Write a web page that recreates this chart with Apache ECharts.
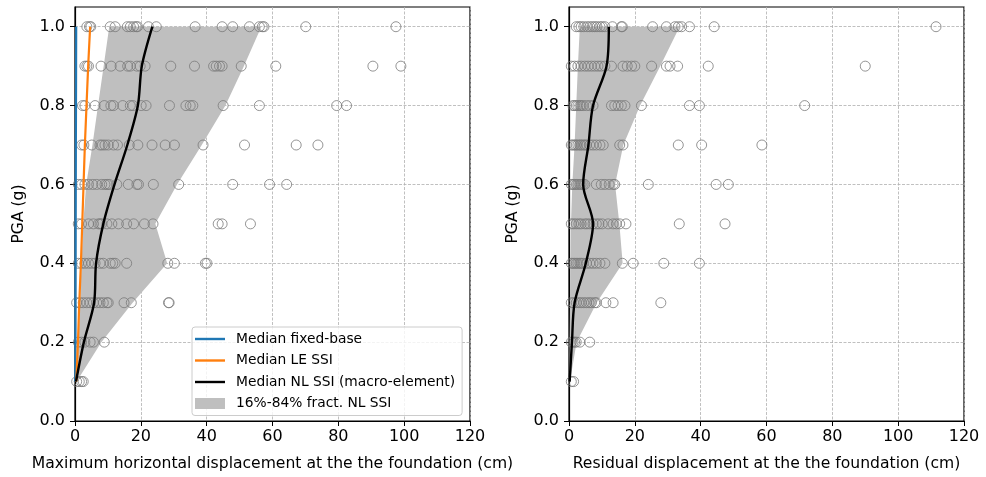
<!DOCTYPE html>
<html>
<head>
<meta charset="utf-8">
<script src="https://cdn.jsdelivr.net/npm/echarts@6/dist/echarts.min.js"></script>
<style>
html,body{margin:0;padding:0;background:#fff;}
#chart{width:986px;height:477px;}
</style>
</head>
<body>
<div id="chart"></div>
<script>
// ---------- DATA ----------
const pgaLevels = [0.1, 0.2, 0.3, 0.4, 0.5, 0.6, 0.7, 0.8, 0.9, 1.0];
const xTicks = [0, 20, 40, 60, 80, 100, 120];
const yTicks = [0.0, 0.2, 0.4, 0.6, 0.8, 1.0];

// Left panel: maximum horizontal displacement (cm), one list per PGA level
const maxDispPoints = [
  [0.5, 1.3, 2.0, 2.5],
  [1.0, 2.0, 3.0, 4.6, 5.6, 8.9],
  [0.5, 1.5, 2.5, 3.6, 4.6, 5.6, 6.6, 7.6, 8.6, 9.7, 10.1, 14.9, 17.1, 28.4, 28.6],
  [1.0, 2.0, 3.0, 4.1, 5.1, 6.1, 7.6, 8.6, 10.7, 11.5, 12.2, 15.7, 28.2, 30.2, 39.6, 40.1],
  [1.0, 2.0, 4.1, 5.6, 7.1, 7.6, 8.1, 9.7, 11.2, 13.2, 15.7, 17.8, 21.1, 23.7, 43.5, 44.7, 53.3],
  [1.0, 2.0, 3.0, 4.1, 5.4, 6.6, 8.1, 9.1, 9.8, 10.4, 12.7, 16.2, 18.8, 19.3, 23.8, 31.5, 47.9, 59.1, 64.3],
  [2.0, 2.7, 5.1, 7.6, 8.3, 9.1, 10.1, 11.7, 12.9, 16.5, 19.1, 23.4, 27.4, 30.2, 38.9, 51.5, 67.2, 73.8],
  [2.3, 3.0, 6.1, 8.9, 10.9, 11.7, 14.5, 16.8, 17.6, 20.1, 21.6, 28.7, 33.7, 35.0, 35.8, 45.0, 56.0, 79.5, 82.5],
  [3.0, 3.6, 4.1, 7.9, 11.0, 13.7, 16.0, 16.8, 18.8, 19.8, 21.3, 29.1, 36.3, 42.1, 42.9, 43.9, 44.7, 50.5, 61.0, 90.5, 99.0],
  [3.6, 4.4, 4.8, 10.7, 12.2, 15.9, 16.8, 17.8, 18.6, 19.0, 22.3, 24.7, 36.5, 44.7, 47.9, 53.0, 56.0, 56.9, 57.4, 70.1, 97.5]
];
const maxDispFixedBase = [0.1, 0.12, 0.15, 0.18, 0.2, 0.23, 0.26, 0.3, 0.33, 0.36];
const maxDispLE        = [0.4, 0.9, 1.3, 1.8, 2.2, 2.6, 3.0, 3.5, 4.0, 4.6];
const maxDispNLMedian  = [0.3, 2.7, 5.8, 6.4, 8.6, 12.0, 15.9, 19.1, 20.3, 23.5];
const maxDispNL16      = [0.3, 1.0, 1.5, 2.0, 2.5, 3.4, 5.3, 7.0, 8.7, 10.4];
const maxDispNL84      = [0.5, 8.0, 17.5, 28.0, 24.4, 31.0, 38.5, 45.7, 51.3, 56.6];

// Right panel: residual displacement (cm), one list per PGA level
const residDispPoints = [
  [0.7, 1.4],
  [0.7, 1.2, 1.7, 2.2, 3.3, 6.3],
  [0.7, 1.4, 2.2, 3.0, 3.7, 4.5, 5.3, 6.1, 6.8, 7.8, 8.3, 11.2, 13.4, 27.9],
  [0.7, 1.2, 1.7, 2.2, 2.7, 3.3, 3.7, 4.3, 5.3, 6.3, 7.3, 8.3, 9.4, 10.9, 16.2, 19.5, 28.8, 39.6],
  [0.7, 1.4, 2.2, 3.0, 3.7, 4.8, 5.5, 6.3, 7.3, 8.3, 9.1, 10.1, 11.9, 13.4, 14.4, 15.4, 17.3, 33.5, 47.4],
  [0.7, 1.2, 1.7, 2.2, 2.7, 3.3, 3.7, 4.3, 4.8, 8.3, 9.8, 10.9, 12.2, 13.4, 13.9, 24.1, 44.7, 48.4],
  [0.7, 1.2, 1.7, 2.2, 2.7, 3.3, 3.7, 4.3, 4.8, 5.3, 6.3, 7.3, 8.3, 9.4, 10.4, 15.4, 16.4, 33.2, 40.3, 58.6],
  [1.2, 1.7, 2.2, 2.7, 3.3, 3.7, 4.3, 5.3, 6.3, 7.3, 12.9, 13.9, 14.9, 15.9, 17.0, 22.0, 36.6, 39.6, 71.6],
  [0.7, 1.7, 2.7, 3.7, 4.8, 5.8, 6.8, 7.8, 8.8, 9.7, 10.9, 12.9, 16.4, 17.7, 19.0, 20.0, 25.1, 29.6, 30.7, 33.0, 42.3, 90.0],
  [2.2, 3.0, 3.7, 4.5, 5.5, 6.3, 7.1, 7.8, 8.5, 9.4, 10.1, 10.9, 13.2, 15.9, 16.2, 25.4, 29.6, 32.2, 33.2, 34.2, 36.6, 44.1, 111.5]
];
const residNLMedian = [0.2, 0.9, 1.7, 5.1, 7.3, 4.3, 5.9, 7.3, 11.4, 12.1];
const residNL16     = [0.1, 0.2, 0.3, 0.4, 0.6, 1.0, 1.7, 2.2, 2.7, 3.3];
const residNL84     = [0.3, 2.3, 8.4, 16.3, 15.3, 14.0, 16.5, 21.6, 27.7, 33.6];

// ---------- CHART ----------
const FONT = 'DejaVu Sans';
const chart = echarts.init(document.getElementById('chart'), null, {renderer: 'canvas'});

function scatterData(lists) {
  const out = [];
  lists.forEach((arr, i) => arr.forEach(v => out.push([v, pgaLevels[i]])));
  return out;
}
function lineData(xs) {
  return xs.map((v, i) => [v, pgaLevels[i]]);
}
function bandSeries(name, idx, lo, hi) {
  return {
    name: name, type: 'custom', xAxisIndex: idx, yAxisIndex: idx, z: 1,
    itemStyle: {color: '#bfbfbf'},
    data: [[0, 0]],
    silent: true,
    renderItem: function (params, api) {
      const pts = [];
      for (let i = 0; i < pgaLevels.length; i++) pts.push(api.coord([lo[i], pgaLevels[i]]));
      for (let i = pgaLevels.length - 1; i >= 0; i--) pts.push(api.coord([hi[i], pgaLevels[i]]));
      return {type: 'polygon', shape: {points: pts}, style: {fill: '#bfbfbf', stroke: null}};
    }
  };
}
function xAxis(idx, name) {
  return {
    type: 'value', gridIndex: idx, min: 0, max: 120, interval: 20,
    name: name, nameLocation: 'middle', nameGap: 35,
    nameTextStyle: {fontFamily: FONT, fontSize: 15.6, color: '#000'},
    axisLine: {show: true, onZero: false, lineStyle: {color: '#000', width: 1.2}},
    axisTick: {show: true, inside: false, length: 5, lineStyle: {color: '#000', width: 1}},
    axisLabel: {fontFamily: FONT, fontSize: 16, color: '#000', margin: 8},
    splitLine: {show: true, lineStyle: {color: '#b0b0b0', width: 0.8, type: [3, 1.5]}}
  };
}
function yAxis(idx) {
  return {
    type: 'value', gridIndex: idx, min: 0, max: 1.05, interval: 0.2,
    name: 'PGA (g)', nameLocation: 'middle', nameGap: 48, nameRotate: 90,
    nameTextStyle: {fontFamily: FONT, fontSize: 15.6, color: '#000'},
    axisLine: {show: true, onZero: false, lineStyle: {color: '#000', width: 1.2}},
    axisTick: {show: true, inside: false, length: 5, customValues: yTicks, lineStyle: {color: '#000', width: 1}},
    axisLabel: {fontFamily: FONT, fontSize: 16, color: '#000', margin: 10, customValues: yTicks,
      formatter: v => (v > 1.001 ? '' : v.toFixed(1))},
    splitLine: {show: true, lineStyle: {color: '#b0b0b0', width: 0.8, type: [3, 1.5]}}
  };
}

const LINE_ICON = 'path://M0,0h30v2.4h-30z';

const option = {
  animation: false,
  backgroundColor: '#fff',
  grid: [
    {left: 75, right: 516, top: 7, bottom: 56, show: true, borderColor: '#000', borderWidth: 1.2},
    {left: 569, right: 22, top: 7, bottom: 56, show: true, borderColor: '#000', borderWidth: 1.2}
  ],
  xAxis: [
    xAxis(0, 'Maximum horizontal displacement at the the foundation (cm)'),
    xAxis(1, 'Residual displacement at the the foundation (cm)')
  ],
  yAxis: [yAxis(0), yAxis(1)],
  legend: {
    orient: 'vertical', left: 192, top: 327,
    padding: [5, 7, 5, 3], itemWidth: 30, itemHeight: 13, itemGap: 7.5,
    backgroundColor: 'rgba(255,255,255,0.8)', borderColor: '#cccccc', borderWidth: 1, borderRadius: 3,
    textStyle: {fontFamily: FONT, fontSize: 13.8, color: '#000', padding: [0, 0, 0, 6]},
    data: [
      {name: 'Median fixed-base', icon: LINE_ICON},
      {name: 'Median LE SSI', icon: LINE_ICON},
      {name: 'Median NL SSI (macro-element)', icon: LINE_ICON},
      {name: '16%-84% fract. NL SSI', icon: 'path://M0,0h30v11h-30z'}
    ]
  },
  series: [
    bandSeries('16%-84% fract. NL SSI', 0, maxDispNL16, maxDispNL84),
    bandSeries('16%-84% fract. NL SSI', 1, residNL16, residNL84),
    {
      name: 'pts-left', type: 'scatter', xAxisIndex: 0, yAxisIndex: 0, z: 2,
      symbol: 'circle', symbolSize: 10,
      itemStyle: {color: 'rgba(0,0,0,0)', borderColor: '#7a7a7a', borderWidth: 1},
      data: scatterData(maxDispPoints)
    },
    {
      name: 'pts-right', type: 'scatter', xAxisIndex: 1, yAxisIndex: 1, z: 2,
      symbol: 'circle', symbolSize: 10,
      itemStyle: {color: 'rgba(0,0,0,0)', borderColor: '#7a7a7a', borderWidth: 1},
      data: scatterData(residDispPoints)
    },
    {
      name: 'Median fixed-base', type: 'line', xAxisIndex: 0, yAxisIndex: 0, z: 3,
      symbol: 'none', lineStyle: {color: '#1f77b4', width: 2.2}, itemStyle: {color: '#1f77b4'},
      data: lineData(maxDispFixedBase)
    },
    {
      name: 'Median LE SSI', type: 'line', xAxisIndex: 0, yAxisIndex: 0, z: 3,
      symbol: 'none', lineStyle: {color: '#ff7f0e', width: 2.2}, itemStyle: {color: '#ff7f0e'},
      data: lineData(maxDispLE)
    },
    {
      name: 'Median NL SSI (macro-element)', type: 'line', xAxisIndex: 0, yAxisIndex: 0, z: 4,
      symbol: 'none', smooth: 0.3, lineStyle: {color: '#000', width: 2.4}, itemStyle: {color: '#000'},
      data: lineData(maxDispNLMedian)
    },
    {
      name: 'Median NL SSI (macro-element)', type: 'line', xAxisIndex: 1, yAxisIndex: 1, z: 4,
      symbol: 'none', smooth: 0.3, lineStyle: {color: '#000', width: 2.4}, itemStyle: {color: '#000'},
      data: lineData(residNLMedian)
    }
  ]
};
chart.setOption(option);
</script>
</body>
</html>
